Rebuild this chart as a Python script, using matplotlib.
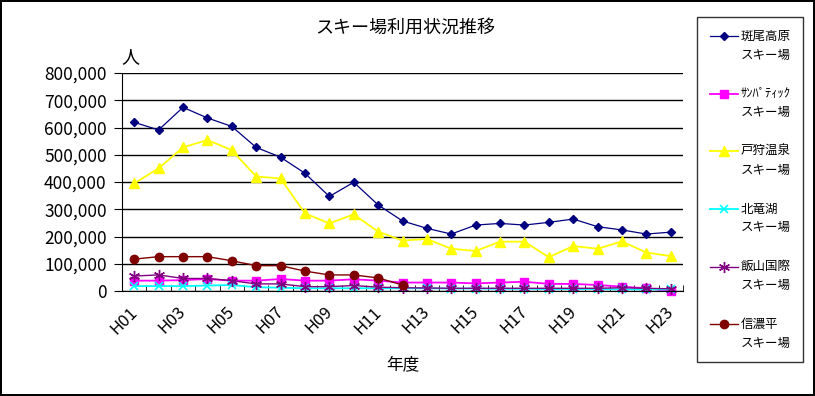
import numpy as np
import matplotlib.pyplot as plt
import matplotlib.transforms as mtransforms
from matplotlib.ticker import FuncFormatter, MultipleLocator
from matplotlib.legend_handler import HandlerLine2D

plt.rcParams['font.family'] = ['Noto Sans CJK JP', 'DejaVu Sans']

years = ['H%02d' % i for i in range(1, 24)]

madarao = [619000, 591000, 674000, 635000, 604000, 527000, 491000, 432000, 347000, 399000,
           316000, 257000, 230000, 209000, 242000, 248000, 242000, 252000, 264000, 236000,
           224000, 209000, 216000]
sunpatic = [38000, 38000, 40000, 44000, 38000, 38000, 44000, 38000, 38000, 43000,
            38000, 31000, 31000, 31000, 28000, 31000, 34000, 26000, 26000, 22000,
            16000, 10000, 0]
togari = [395000, 450000, 527000, 554000, 517000, 420000, 413000, 285000, 248000, 281000,
          218000, 185000, 191000, 155000, 147000, 181000, 181000, 124000, 165000, 155000,
          182000, 141000, 128000]
hokuryuko = [18000, 18000, 18000, 20000, 22000, 14000, 12000, 10000, 10000, 10000,
             10000, 10000, 10000, 9000, 9000, 8000, 8000, 7000, 7000, 7000,
             6000, 6000, 6000]
iiyama = [55000, 59000, 46000, 46000, 38000, 26000, 26000, 16000, 16000, 20000,
          14000, 12000, 11000, 10000, 10000, 10000, 10000, 10000, 10000, 10000,
          12000, 10000, 8000]
shinanodaira = [117000, 126000, 126000, 126000, 111000, 93000, 93000, 73000, 59000, 59000,
                48000, 22000]

series = [
    ('斑尾高原\nスキー場', madarao, dict(color='#000080', marker='D', ms=4.5, lw=0.9)),
    ('ｻﾝﾊﾟﾃｨｯｸ\nスキー場', sunpatic, dict(color='#FF00FF', marker='s', ms=6, lw=1.3)),
    ('戸狩温泉\nスキー場', togari, dict(color='#FFFF00', marker='^', ms=7, lw=1.3)),
    ('北竜湖\nスキー場', hokuryuko, dict(color='#00FFFF', marker='x', ms=6, lw=1.3, mew=1.2)),
    ('飯山国際\nスキー場', iiyama, dict(color='#800080', marker=(6, 2, 0), ms=8, lw=1.0, mew=1.0)),
    ('信濃平\nスキー場', shinanodaira, dict(color='#800000', marker='o', ms=6, lw=1.0)),
]


# legend handle aligned with the first line of a two-line label
class FirstLineHandler(HandlerLine2D):
    def create_artists(self, legend, orig_handle, xdescent, ydescent, width, height, fontsize, trans):
        arts = super().create_artists(legend, orig_handle, xdescent, ydescent, width, height, fontsize, trans)
        for a in arts:
            a.set_ydata(np.asarray(a.get_ydata(), dtype=float) + 0.8 * fontsize)
        return arts


fig = plt.figure(figsize=(8.15, 3.96), dpi=100)
fig.patch.set_edgecolor('black')
fig.patch.set_linewidth(1.5)
ax = fig.add_axes([122 / 815, 1 - 291 / 396, 561 / 815, 218 / 396])

x = np.arange(len(years))
handles = []
for name, vals, st in series:
    h, = ax.plot(x[:len(vals)], vals, label=name, clip_on=False, **st)
    handles.append(h)

ax.set_xlim(-0.5, len(years) - 0.5)
ax.set_ylim(0, 800000)
ax.yaxis.set_major_locator(MultipleLocator(100000))
ax.yaxis.set_major_formatter(FuncFormatter(lambda v, p: f'{int(v):,}'))
ax.grid(axis='y', color='black', lw=1)
ax.set_axisbelow(True)
for s in ['top', 'right']:
    ax.spines[s].set_visible(False)

ax.set_xticks(np.arange(-0.5, len(years), 1), minor=True)
ax.set_xticks(x[::2])
ax.set_xticklabels(years[::2], rotation=45, ha='right', rotation_mode='anchor', fontsize=12)
ax.tick_params(axis='x', which='major', length=0, pad=9)
ax.tick_params(axis='x', which='minor', direction='in', length=4)
ax.tick_params(axis='y', direction='out', length=6, labelsize=12.5, pad=5)
shift = mtransforms.ScaledTranslation(-4 / 72, 0, fig.dpi_scale_trans)
for lab in ax.get_xticklabels():
    lab.set_transform(lab.get_transform() + shift)

fig.text(405 / 815, 1 - 28 / 396, 'スキー場利用状況推移', ha='center', va='center', fontsize=13)
fig.text(130 / 815, 1 - 57 / 396, '人', ha='center', va='center', fontsize=13)
fig.text(403 / 815, 1 - 365 / 396, '年度', ha='center', va='center', fontsize=12)

leg = fig.legend(handles=handles, loc='upper left', bbox_to_anchor=(697 / 815, 1 - 17 / 396),
                 frameon=True, fancybox=False, fontsize=9, labelspacing=2.05,
                 handlelength=2.3, handletextpad=0.2, borderpad=1.0, borderaxespad=0,
                 handler_map={h: FirstLineHandler() for h in handles})
leg.get_frame().set_edgecolor('black')
leg.get_frame().set_linewidth(1.0)
for t in leg.get_texts():
    t.set_linespacing(1.6)

fig.savefig('out.png', dpi=100)
